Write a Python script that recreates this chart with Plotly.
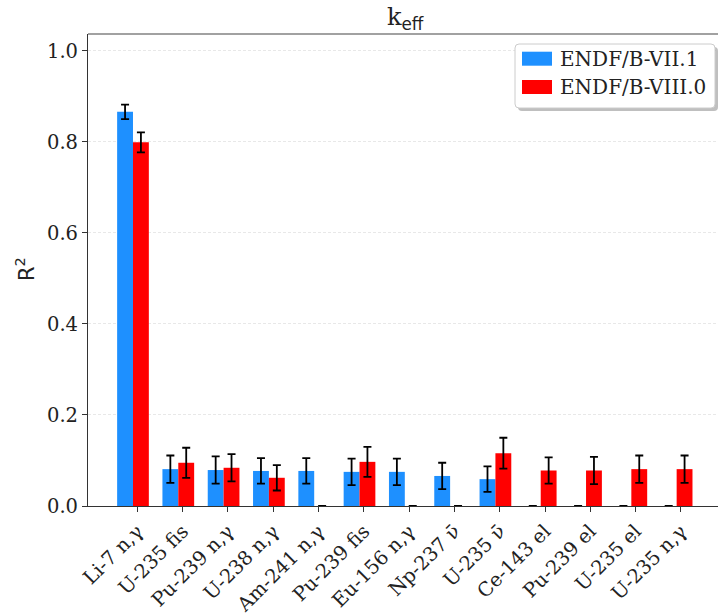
import plotly.graph_objects as go

# Sensitivity terms ranked for k_eff
categories = ["Li-7 n,γ", "U-235 fis", "Pu-239 n,γ", "U-238 n,γ", "Am-241 n,γ",
              "Pu-239 fis", "Eu-156 n,γ", "Np-237 ν̄", "U-235 ν̄", "Ce-143 el",
              "Pu-239 el", "U-235 el", "U-235 n,γ"]

r2_vii1 = [0.866, 0.081, 0.079, 0.077, 0.077, 0.075, 0.075, 0.066, 0.059, 0.0, 0.0, 0.0, 0.0]
err_vii1 = [0.016, 0.030, 0.030, 0.028, 0.028, 0.029, 0.029, 0.029, 0.028, 0.0, 0.0, 0.0, 0.0]
r2_viii0 = [0.799, 0.095, 0.084, 0.062, 0.0, 0.097, 0.0, 0.0, 0.116, 0.078, 0.078, 0.081, 0.081]
err_viii0 = [0.022, 0.033, 0.030, 0.028, 0.0, 0.033, 0.0, 0.0, 0.034, 0.029, 0.030, 0.030, 0.030]

series_names = ["ENDF/B-VII.1", "ENDF/B-VIII.0"]
series_colors = ["#1E90FF", "#FF0000"]
y_ticks = [0.0, 0.2, 0.4, 0.6, 0.8, 1.0]

W, H = 718, 613
L, R, T, B = 88, 718, 34, 506  # plot area in pixels

SERIF = "DejaVu Serif"
SANS = "DejaVu Sans"
TICK_SIZE = 19.5


def px(x):
    return (x - L) / (R - L)


def py(y):
    return (B - y) / (B - T)


fig = go.Figure()
for vals, errs, name, color, off in [
    (r2_vii1, err_vii1, series_names[0], series_colors[0], -0.445),
    (r2_viii0, err_viii0, series_names[1], series_colors[1], -0.095),
]:
    fig.add_trace(go.Bar(
        x=categories, y=vals, name=name, marker=dict(color=color, line=dict(width=0)),
        width=0.35, offset=off, showlegend=False,
        error_y=dict(type="data", array=errs, visible=True, color="black",
                     thickness=1.8, width=4),
    ))

fig.update_layout(
    width=W, height=H,
    margin=dict(l=L, r=W - R, t=T, b=H - B, autoexpand=False),
    plot_bgcolor="white", paper_bgcolor="white",
    barmode="overlay",
    font=dict(family=SERIF, size=TICK_SIZE, color="#222"),
    xaxis=dict(
        range=[-1.088, 12.818], tickangle=-45, ticks="outside", ticklen=5,
        tickcolor="#333", linecolor="#333", linewidth=1.2, showline=True,
        mirror=False, showgrid=False, automargin=False,
        tickfont=dict(family=SERIF, size=TICK_SIZE, color="#222"),
        fixedrange=True,
    ),
    yaxis=dict(
        range=[0, 1.037], tickvals=y_ticks, ticktext=[f"{v:.1f}" for v in y_ticks],
        ticks="outside", ticklen=5, tickcolor="#333", linecolor="#333", linewidth=1.2,
        showline=True, showgrid=True, gridcolor="#e8e8e8", gridwidth=0.8,
        griddash="3px,2px", zeroline=False, automargin=False,
        tickfont=dict(family=SERIF, size=TICK_SIZE, color="#222"),
    ),
)

# top spine
fig.add_shape(type="line", xref="paper", yref="paper", x0=0, x1=1, y0=1, y1=1,
              line=dict(color="#444", width=1.2))

# title and y-axis label
fig.add_annotation(
    xref="paper", yref="paper", x=px(405), y=py(19), showarrow=False,
    xanchor="center", yanchor="middle",
    text=f"<span style='font-family:{SERIF}'>k</span><sub><span style='font-family:{SANS}'>eff</span></sub>",
    font=dict(family=SERIF, size=24, color="#222"),
)
fig.add_annotation(
    xref="paper", yref="paper", x=px(25), y=py(269), showarrow=False,
    xanchor="center", yanchor="middle", textangle=-90,
    text="R<sup>2</sup>", font=dict(family=SANS, size=21, color="#222"),
)


def rounded_rect(x0, y0, x1, y1, r):
    # pixel-space rounded rectangle converted to paper coordinates
    pts = [
        f"M {px(x0 + r)},{py(y0)}",
        f"L {px(x1 - r)},{py(y0)}",
        f"Q {px(x1)},{py(y0)} {px(x1)},{py(y0 + r)}",
        f"L {px(x1)},{py(y1 - r)}",
        f"Q {px(x1)},{py(y1)} {px(x1 - r)},{py(y1)}",
        f"L {px(x0 + r)},{py(y1)}",
        f"Q {px(x0)},{py(y1)} {px(x0)},{py(y1 - r)}",
        f"L {px(x0)},{py(y0 + r)}",
        f"Q {px(x0)},{py(y0)} {px(x0 + r)},{py(y0)}",
        "Z",
    ]
    return " ".join(pts)


# legend: shadow, frame, patches and labels
fig.add_shape(type="path", xref="paper", yref="paper",
              path=rounded_rect(518, 47, 718, 111, 4),
              fillcolor="rgba(0,0,0,0.25)", line=dict(width=0), layer="above")
fig.add_shape(type="path", xref="paper", yref="paper",
              path=rounded_rect(515, 44, 715, 108, 4),
              fillcolor="white", line=dict(color="#cccccc", width=1), layer="above")
for i, (name, color) in enumerate(zip(series_names, series_colors)):
    cy = 58.7 + i * 28.3
    fig.add_shape(type="rect", xref="paper", yref="paper",
                  x0=px(522), x1=px(552), y0=py(cy - 7), y1=py(cy + 7),
                  fillcolor=color, line=dict(width=0), layer="above")
    fig.add_annotation(xref="paper", yref="paper", x=px(558), y=py(cy), showarrow=False,
                       xanchor="left", yanchor="middle", text=name,
                       font=dict(family=SERIF, size=20, color="#222"))

fig.write_html("out.html")
